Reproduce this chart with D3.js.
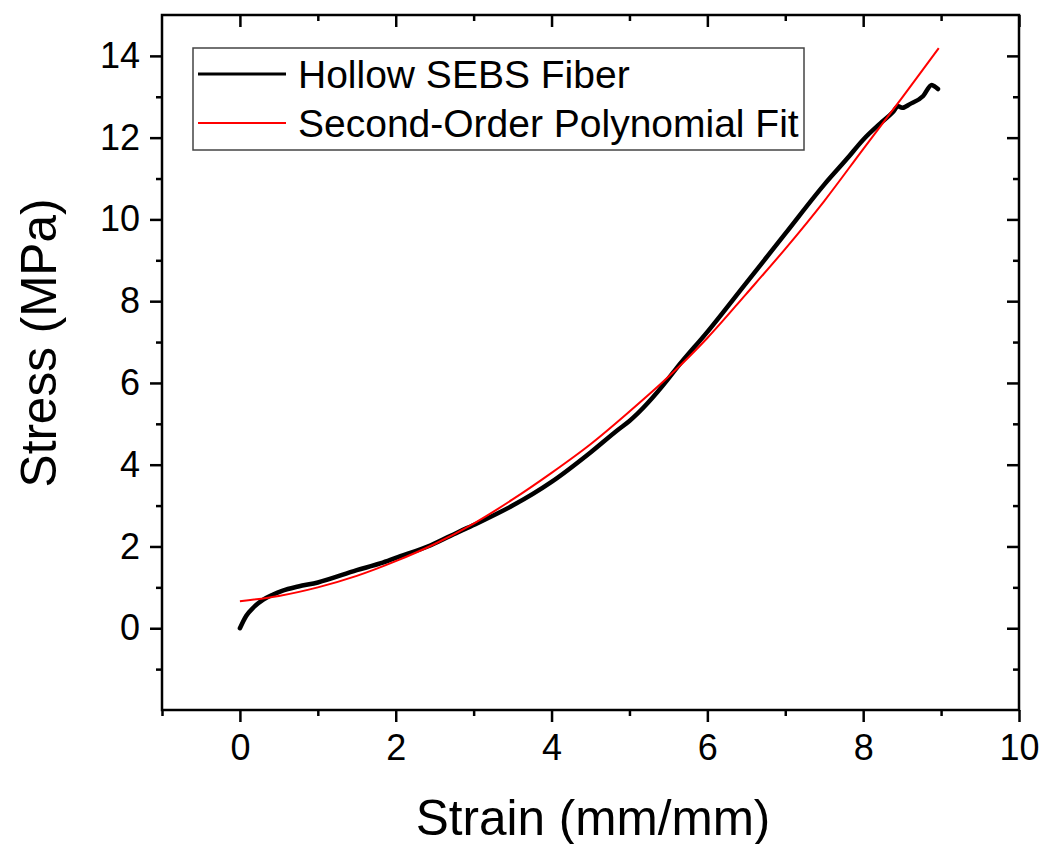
<!DOCTYPE html>
<html>
<head>
<meta charset="utf-8">
<script src="https://cdn.jsdelivr.net/npm/d3@7"></script>
<style>
  html, body { margin: 0; padding: 0; background: #fff; }
  svg { display: block; font-family: "Liberation Sans", Arial, sans-serif; }
</style>
</head>
<body>
<svg id="chart" width="1044" height="844"></svg>
<script>
// ---- data ----
const fiberStrain = [0, 0.08, 0.18, 0.3, 0.42, 0.55, 0.75, 1.0, 1.5, 1.81, 2.0, 2.45, 2.8, 3.05, 3.5, 4.0, 4.5, 4.85, 5.0, 5.49, 5.6, 6.0, 6.5, 7.0, 7.5, 7.8, 8.0, 8.22, 8.38, 8.45, 8.5, 8.6, 8.77, 8.88, 8.92, 8.96];
const fiberStress = [0, 0.3, 0.52, 0.7, 0.82, 0.92, 1.02, 1.12, 1.42, 1.59, 1.72, 2.03, 2.35, 2.57, 3.0, 3.58, 4.3, 4.85, 5.07, 6.08, 6.35, 7.25, 8.45, 9.65, 10.85, 11.5, 11.95, 12.35, 12.62, 12.77, 12.73, 12.82, 13.02, 13.29, 13.25, 13.19];

const fitStrain = [0, 0.5, 1, 1.5, 2, 2.5, 3, 3.5, 4, 4.5, 5, 5.5, 6, 6.5, 7, 7.5, 8, 8.5, 8.97];
const fitStress = [0.66, 0.79, 1.0, 1.28, 1.64, 2.06, 2.56, 3.15, 3.8, 4.5, 5.3, 6.15, 7.1, 8.18, 9.28, 10.45, 11.72, 12.98, 14.19];

const xMajorTicks = [0, 2, 4, 6, 8, 10];
const xMinorTicks = [-1, 1, 3, 5, 7, 9];
const yMajorTicks = [0, 2, 4, 6, 8, 10, 12, 14];
const yMinorTicks = [-1, 1, 3, 5, 7, 9, 11, 13];

const seriesNames = ["Hollow SEBS Fiber", "Second-Order Polynomial Fit"];
const seriesColors = ["#000000", "#ff0000"];
const xTitle = "Strain (mm/mm)";
const yTitle = "Stress (MPa)";

// ---- layout ----
const L = 162, R = 1019, T = 15, B = 710;
const svg = d3.select("#chart");
const x = d3.scaleLinear().domain([-1, 10]).range([L, R]);
const y = d3.scaleLinear().domain([-2, 15]).range([B, T]);

const majorLen = 12, minorLen = 6;

svg.append("clipPath").attr("id", "clip").append("rect")
  .attr("x", L).attr("y", T).attr("width", R - L).attr("height", B - T);

const fiber = fiberStrain.map((v, i) => [v, fiberStress[i]]);
const fit = fitStrain.map((v, i) => [v, fitStress[i]]);

const g = svg.append("g").attr("clip-path", "url(#clip)");
g.append("path").datum(fiber)
  .attr("d", d3.line().x(d => x(d[0])).y(d => y(d[1])).curve(d3.curveMonotoneX))
  .attr("fill", "none").attr("stroke", seriesColors[0]).attr("stroke-width", 4.5)
  .attr("stroke-linejoin", "round").attr("stroke-linecap", "round");
g.append("path").datum(fit)
  .attr("d", d3.line().x(d => x(d[0])).y(d => y(d[1])).curve(d3.curveCatmullRom))
  .attr("fill", "none").attr("stroke", seriesColors[1]).attr("stroke-width", 2);

function addAxis(axisGen, transform) {
  const a = svg.append("g").attr("transform", transform).call(axisGen);
  a.select(".domain").remove();
  a.selectAll("line").attr("stroke", "#000").attr("stroke-width", 2.5);
  return a;
}
// bottom (outward)
const bx = addAxis(d3.axisBottom(x).tickValues(xMajorTicks).tickSize(majorLen).tickPadding(12).tickFormat(d3.format("d")), `translate(0,${B})`);
bx.selectAll("text").attr("font-size", 36).attr("fill", "#000").attr("font-family", "Liberation Sans, Arial, sans-serif");
addAxis(d3.axisBottom(x).tickValues(xMinorTicks).tickSize(minorLen).tickFormat(""), `translate(0,${B})`);
// top (inward)
addAxis(d3.axisBottom(x).tickValues(xMajorTicks).tickSize(majorLen).tickFormat(""), `translate(0,${T})`);
addAxis(d3.axisBottom(x).tickValues(xMinorTicks.filter(v => v > -1)).tickSize(minorLen).tickFormat(""), `translate(0,${T})`);
// left (outward)
const ly = addAxis(d3.axisLeft(y).tickValues(yMajorTicks).tickSize(majorLen).tickPadding(10).tickFormat(d3.format("d")), `translate(${L},0)`);
ly.selectAll("text").attr("font-size", 36).attr("fill", "#000").attr("font-family", "Liberation Sans, Arial, sans-serif");
addAxis(d3.axisLeft(y).tickValues(yMinorTicks).tickSize(minorLen).tickFormat(""), `translate(${L},0)`);
// right (inward)
addAxis(d3.axisLeft(y).tickValues(yMajorTicks).tickSize(majorLen).tickFormat(""), `translate(${R},0)`);
addAxis(d3.axisLeft(y).tickValues(yMinorTicks).tickSize(minorLen).tickFormat(""), `translate(${R},0)`);

// frame
svg.append("rect").attr("x", L).attr("y", T).attr("width", R - L).attr("height", B - T)
  .attr("fill", "none").attr("stroke", "#000").attr("stroke-width", 2.5);

// axis titles
svg.append("text").attr("x", 593).attr("y", 835).attr("text-anchor", "middle")
  .attr("font-size", 49.5).attr("fill", "#000").text(xTitle);
svg.append("text").attr("transform", `translate(56,343) rotate(-90)`).attr("text-anchor", "middle")
  .attr("font-size", 49.5).attr("fill", "#000").text(yTitle);

// legend
const leg = svg.append("g");
leg.append("rect").attr("x", 193).attr("y", 48).attr("width", 611).attr("height", 102)
  .attr("fill", "#fff").attr("stroke", "#444").attr("stroke-width", 1.5);
seriesNames.forEach((name, i) => {
  const cy = 74 + i * 49;
  leg.append("line").attr("x1", 198).attr("x2", 286).attr("y1", cy).attr("y2", cy)
    .attr("stroke", seriesColors[i]).attr("stroke-width", i === 0 ? 3 : 2);
  leg.append("text").attr("x", 298).attr("y", cy + 14).attr("font-size", 39).attr("fill", "#000").text(name);
});
</script>
</body>
</html>
